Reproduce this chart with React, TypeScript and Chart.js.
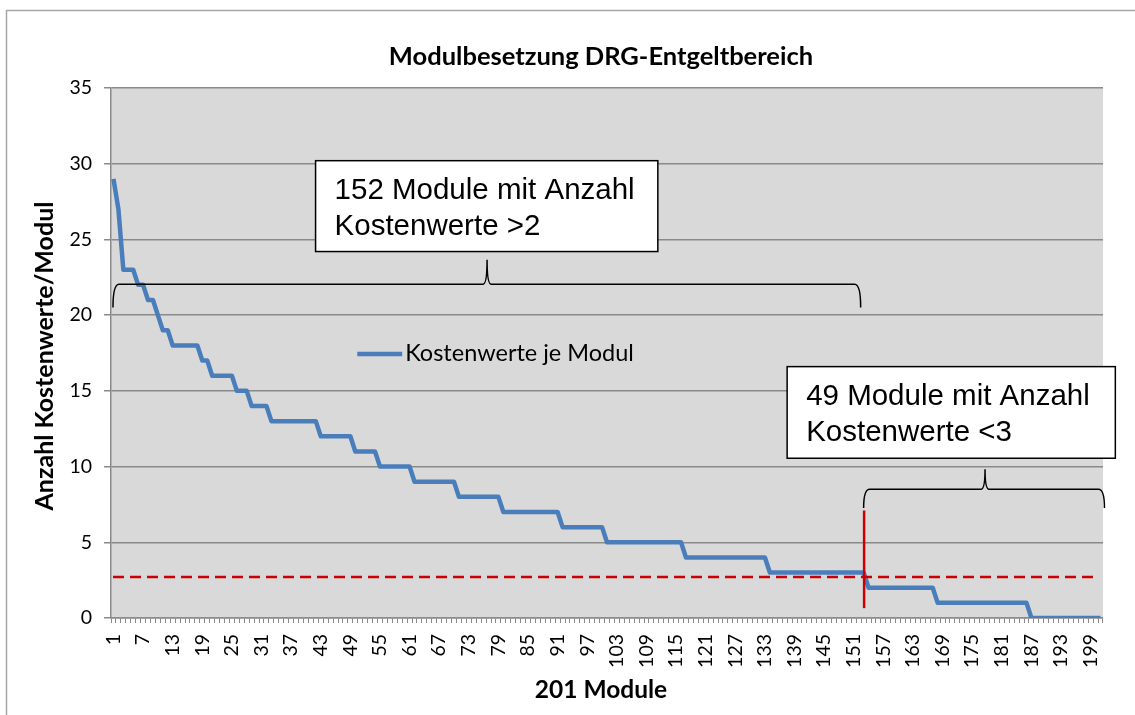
import React, { useEffect, useRef } from "react";
import { Chart, registerables } from "chart.js";

Chart.register(...registerables);

// Module numbers 1..201 (category labels)
const categories: string[] = Array.from({ length: 201 }, (_, i) => String(i + 1));

// Kostenwerte je Modul (one value per module)
const costValues: number[] = [
  29, 27, 23, 23, 23, 22, 22, 21, 21, 20,
  19, 19, 18, 18, 18, 18, 18, 18, 17, 17,
  16, 16, 16, 16, 16, 15, 15, 15, 14, 14,
  14, 14, 13, 13, 13, 13, 13, 13, 13, 13,
  13, 13, 12, 12, 12, 12, 12, 12, 12, 11,
  11, 11, 11, 11, 10, 10, 10, 10, 10, 10,
  10, 9, 9, 9, 9, 9, 9, 9, 9, 9,
  8, 8, 8, 8, 8, 8, 8, 8, 8, 7,
  7, 7, 7, 7, 7, 7, 7, 7, 7, 7,
  7, 6, 6, 6, 6, 6, 6, 6, 6, 6,
  5, 5, 5, 5, 5, 5, 5, 5, 5, 5,
  5, 5, 5, 5, 5, 5, 4, 4, 4, 4,
  4, 4, 4, 4, 4, 4, 4, 4, 4, 4,
  4, 4, 4, 3, 3, 3, 3, 3, 3, 3,
  3, 3, 3, 3, 3, 3, 3, 3, 3, 3,
  3, 3, 3, 2, 2, 2, 2, 2, 2, 2,
  2, 2, 2, 2, 2, 2, 2, 1, 1, 1,
  1, 1, 1, 1, 1, 1, 1, 1, 1, 1,
  1, 1, 1, 1, 1, 1, 0, 0, 0, 0,
  0, 0, 0, 0, 0, 0, 0, 0, 0, 0,
  0,
];

const yTicks: number[] = [0, 5, 10, 15, 20, 25, 30, 35];
const THRESHOLD = 2.7;
const SPLIT_INDEX = 152.1;
const SPLIT_RANGE: number[] = [0.65, 7.1];

const TITLE = "Modulbesetzung DRG-Entgeltbereich";
const Y_TITLE = "Anzahl Kostenwerte/Modul";
const X_TITLE = "201 Module";
const SERIES_NAME = "Kostenwerte je Modul";
const BOX1_LINES: string[] = ["152 Module mit Anzahl", "Kostenwerte >2"];
const BOX2_LINES: string[] = ["49 Module mit Anzahl", "Kostenwerte <3"];

const BLUE = "#4a7ebb";
const RED = "#cc0000";
const GRID = "#8a8a8a";
const FONT = "Lato, 'Noto Sans', sans-serif";
const BOX_FONT = "'Liberation Sans', Arial, sans-serif";

function drawBrace(ctx: CanvasRenderingContext2D, x1: number, x2: number, xt: number, yEnd: number, yH: number, yTip: number) {
  const r = 6;
  const rt = 4;
  ctx.beginPath();
  ctx.moveTo(x1, yEnd);
  ctx.quadraticCurveTo(x1, yH, x1 + r, yH);
  ctx.lineTo(xt - rt, yH);
  ctx.quadraticCurveTo(xt, yH, xt, yTip);
  ctx.quadraticCurveTo(xt, yH, xt + rt, yH);
  ctx.lineTo(x2 - r, yH);
  ctx.quadraticCurveTo(x2, yH, x2, yEnd);
  ctx.stroke();
}

function drawBox(ctx: CanvasRenderingContext2D, l: number, t: number, r: number, b: number, lines: string[]) {
  ctx.fillStyle = "#ffffff";
  ctx.fillRect(l, t, r - l, b - t);
  ctx.strokeStyle = "#000000";
  ctx.lineWidth = 1.5;
  ctx.strokeRect(l, t, r - l, b - t);
  ctx.fillStyle = "#000000";
  ctx.font = `29.5px ${BOX_FONT}`;
  ctx.textAlign = "left";
  ctx.textBaseline = "alphabetic";
  ctx.fillText(lines[0], l + 19, t + 38);
  ctx.fillText(lines[1], l + 19, t + 74);
}

const decorPlugin = {
  id: "decor",
  beforeDraw(chart: any) {
    const { ctx, chartArea } = chart;
    ctx.save();
    ctx.fillStyle = "#ffffff";
    ctx.fillRect(0, 0, chart.width, chart.height);
    ctx.fillStyle = "#d9d9d9";
    ctx.fillRect(chartArea.left, chartArea.top, chartArea.right - chartArea.left, chartArea.bottom - chartArea.top);
    ctx.restore();
  },
  afterDatasetsDraw(chart: any) {
    const { ctx, chartArea } = chart;
    const xs = chart.scales.x;
    const ys = chart.scales.y;
    ctx.save();
    // threshold dashed line
    ctx.strokeStyle = RED;
    ctx.lineWidth = 2.5;
    ctx.setLineDash([11, 6]);
    ctx.beginPath();
    const ty = ys.getPixelForValue(THRESHOLD);
    ctx.moveTo(chartArea.left + 2, ty);
    ctx.lineTo(xs.getPixelForValue(199.1), ty);
    ctx.stroke();
    ctx.setLineDash([]);
    // split vertical line
    const sx = xs.getPixelForValue(SPLIT_INDEX);
    ctx.lineWidth = 2.5;
    ctx.beginPath();
    ctx.moveTo(sx, ys.getPixelForValue(SPLIT_RANGE[0]));
    ctx.lineTo(sx, ys.getPixelForValue(SPLIT_RANGE[1]));
    ctx.stroke();
    ctx.restore();
  },
  afterDraw(chart: any) {
    const { ctx, chartArea } = chart;
    const xs = chart.scales.x;
    const ys = chart.scales.y;
    const px = (i: number) => xs.getPixelForValue(i);
    const py = (v: number) => ys.getPixelForValue(v);
    ctx.save();

    // chart outer border
    ctx.strokeStyle = "#a6a6a6";
    ctx.lineWidth = 1.5;
    ctx.strokeRect(6.5, 10.5, chart.width + 50, chart.height + 50);

    // title
    ctx.fillStyle = "#000000";
    ctx.font = `bold 25.5px ${FONT}`;
    ctx.textAlign = "center";
    ctx.textBaseline = "middle";
    ctx.fillText(TITLE, (chartArea.left + chartArea.right) / 2 - 6, 57);

    // x title
    ctx.font = `bold 24.5px ${FONT}`;
    ctx.fillText(X_TITLE, (chartArea.left + chartArea.right) / 2 - 6, 690);

    // y title
    ctx.font = `bold 25px ${FONT}`;
    ctx.save();
    ctx.translate(45, (chartArea.top + chartArea.bottom) / 2 + 3);
    ctx.rotate(-Math.PI / 2);
    ctx.fillText(Y_TITLE, 0, 0);
    ctx.restore();

    // legend
    const ly = py(17.44);
    ctx.strokeStyle = BLUE;
    ctx.lineWidth = 4.5;
    ctx.beginPath();
    ctx.moveTo(px(49.4), ly);
    ctx.lineTo(px(58.5), ly);
    ctx.stroke();
    ctx.fillStyle = "#000000";
    ctx.font = `23.5px ${FONT}`;
    ctx.textAlign = "left";
    ctx.textBaseline = "middle";
    ctx.fillText(SERIES_NAME, px(58.5) + 3, ly);

    // braces
    ctx.strokeStyle = "#000000";
    ctx.lineWidth = 1.5;
    drawBrace(ctx, px(-0.1), px(151.4), px(75.7), py(20.5), py(22.04), py(23.65));
    drawBrace(ctx, px(152.0), px(200.8), px(176.6), py(7.27), py(8.5), py(9.82));

    // text boxes
    drawBox(ctx, px(40.95), py(30.2), px(110.3), py(24.2), BOX1_LINES);
    drawBox(ctx, px(136.5), py(16.6), px(203.0), py(10.55), BOX2_LINES);

    ctx.restore();
  },
};

export default function App() {
  const canvasRef = useRef<HTMLCanvasElement | null>(null);

  useEffect(() => {
    if (!canvasRef.current) return;
    const chart = new Chart(canvasRef.current, {
      type: "line",
      data: {
        labels: categories,
        datasets: [
          {
            label: SERIES_NAME,
            data: costValues,
            borderColor: BLUE,
            backgroundColor: BLUE,
            borderWidth: 4.5,
            pointRadius: 0,
            tension: 0,
            borderJoinStyle: "round",
            fill: false,
          },
        ],
      },
      options: {
        responsive: false,
        animation: false,
        layout: { padding: { top: 88, right: 30, left: 0, bottom: 0 } },
        plugins: {
          legend: { display: false },
          title: { display: false },
          tooltip: { enabled: false },
        },
        scales: {
          x: {
            type: "category",
            offset: true,
            grid: {
              display: true,
              drawOnChartArea: false,
              drawTicks: true,
              tickLength: 5,
              offset: true,
              color: GRID,
              lineWidth: 1,
            },
            border: { display: true, color: GRID, width: 1.5 },
            ticks: {
              autoSkip: false,
              minRotation: 90,
              maxRotation: 90,
              padding: 11,
              color: "#000000",
              font: { family: FONT, size: 19.5 },
              callback: (_v: any, i: number) => (i % 6 === 0 ? categories[i] : ""),
            },
            afterFit: (s: any) => {
              s.height = 97;
            },
          },
          y: {
            min: 0,
            max: 35,
            afterBuildTicks: (s: any) => {
              s.ticks = yTicks.map((v) => ({ value: v }));
            },
            ticks: {
              padding: 12,
              color: "#000000",
              font: { family: FONT, size: 19.5 },
            },
            grid: { color: GRID, lineWidth: 1.5, tickLength: 7 },
            border: { display: true, color: GRID, width: 1.5 },
            afterFit: (s: any) => {
              s.width = 111;
            },
          },
        },
      },
      plugins: [decorPlugin],
    } as any);
    return () => chart.destroy();
  }, []);

  return (
    <div style={{ position: "absolute", left: 0, top: 0, width: 1135, height: 715 }}>
      <canvas ref={canvasRef} width={1135} height={715} style={{ display: "block" }} />
    </div>
  );
}
